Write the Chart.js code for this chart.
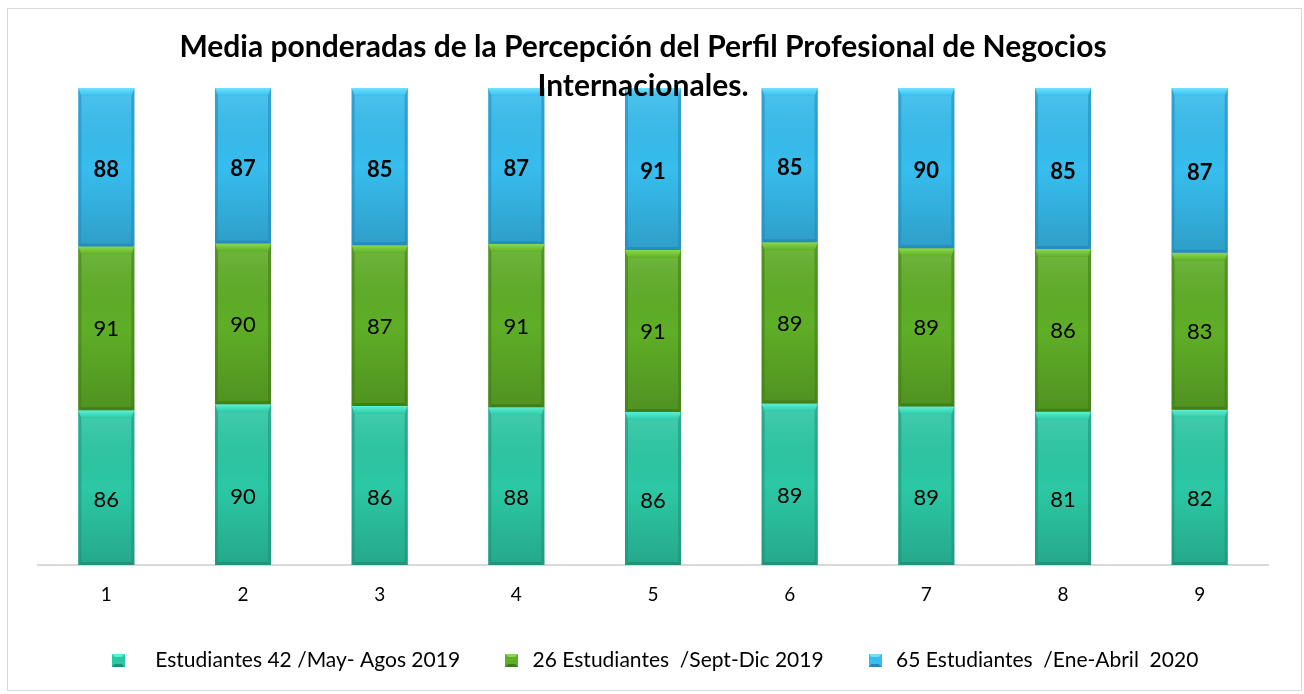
<!DOCTYPE html>
<html>
<head>
<meta charset="utf-8">
<script src="https://cdn.jsdelivr.net/npm/chart.js@4.4.1/dist/chart.umd.min.js"></script>
<style>
  html, body { margin: 0; padding: 0; background: #fff; }
  #grafico { display: block; }
</style>
</head>
<body>
<canvas id="grafico" width="1304" height="694"></canvas>
<script>
'use strict';

// categorias (items evaluados) y medias ponderadas de cada grupo
var categorias = ['1', '2', '3', '4', '5', '6', '7', '8', '9'];
var mayAgos2019 = [86, 90, 86, 88, 86, 89, 89, 81, 82];
var septDic2019 = [91, 90, 87, 91, 91, 89, 89, 86, 83];
var eneAbril2020 = [88, 87, 85, 87, 91, 85, 90, 85, 87];
var leyendas = [
   '   Estudiantes 42 /May- Agos 2019',
   '26 Estudiantes  /Sept-Dic 2019',
   '65 Estudiantes  /Ene-Abril  2020'
];
var titulo = [
   'Media ponderadas de la Percepción del Perfil Profesional de Negocios',
   'Internacionales.'
];

var FUENTE = 'Lato, "Liberation Sans", sans-serif';

//tonos de cada serie: base, bisel claro, borde oscuro
var tonos = [
   { base: '#2cc8a5', claro: '#5cf0d4', oscuro: '#1f8f76' },
   { base: '#5fae27', claro: '#8bd94a', oscuro: '#3f7a16' },
   { base: '#37bdee', claro: '#70e2ff', oscuro: '#2388b8' }
];

//barras al 100%: cada valor como parte del total de la columna
function aPorcentaje(serie) {
   return serie.map(function (v, i) {
      var total = mayAgos2019[i] + septDic2019[i] + eneAbril2020[i];
      return v / total * 100;
   });
}

function cuadroLeyenda(t) {
   var c = document.createElement('canvas');
   c.width = 13; c.height = 13;
   var g = c.getContext('2d');
   g.fillStyle = t.base; g.fillRect(0, 0, 13, 13);
   g.fillStyle = t.claro;
   g.beginPath(); g.moveTo(0, 0); g.lineTo(13, 0); g.lineTo(10, 3); g.lineTo(3, 3); g.closePath(); g.fill();
   g.fillStyle = t.oscuro;
   g.beginPath(); g.moveTo(0, 13); g.lineTo(13, 13); g.lineTo(10, 10); g.lineTo(3, 10); g.closePath(); g.fill();
   return c;
}

var series = [mayAgos2019, septDic2019, eneAbril2020];

//marco, biseles, etiquetas y titulo
var decorado = {
   id: 'decorado',
   beforeDraw: function (chart) {
      var ctx = chart.ctx;
      ctx.save();
      ctx.fillStyle = '#fff';
      ctx.fillRect(0, 0, chart.width, chart.height);
      ctx.strokeStyle = '#d9d9d9';
      ctx.lineWidth = 1;
      ctx.strokeRect(7.5, 8.5, 1294, 682);
      ctx.restore();
   },
   afterDatasetsDraw: function (chart) {
      var ctx = chart.ctx;
      ctx.save();
      chart.data.datasets.forEach(function (ds, i) {
         var t = tonos[i];
         chart.getDatasetMeta(i).data.forEach(function (bar) {
            var p = bar.getProps(['x', 'y', 'base', 'width'], true);
            var l = p.x - p.width / 2, r = p.x + p.width / 2;
            var top = Math.min(p.y, p.base), bot = Math.max(p.y, p.base);
            var bv = 8, sd = 3;
            //sombreado vertical
            var g = ctx.createLinearGradient(0, top, 0, bot);
            g.addColorStop(0, 'rgba(255,255,255,0.12)');
            g.addColorStop(0.5, 'rgba(0,0,0,0)');
            g.addColorStop(1, 'rgba(0,0,0,0.16)');
            ctx.fillStyle = g;
            ctx.fillRect(l, top, p.width, bot - top);
            //bisel superior
            var gb = ctx.createLinearGradient(0, top, 0, top + bv);
            gb.addColorStop(0, t.claro);
            gb.addColorStop(1, t.base);
            ctx.fillStyle = gb;
            ctx.beginPath();
            ctx.moveTo(l, top); ctx.lineTo(r, top);
            ctx.lineTo(r - sd, top + bv); ctx.lineTo(l + sd, top + bv);
            ctx.closePath(); ctx.fill();
            //lados y base oscuros
            ctx.fillStyle = t.oscuro;
            ctx.globalAlpha = 0.55;
            ctx.beginPath();
            ctx.moveTo(l, top); ctx.lineTo(l + sd, top + bv);
            ctx.lineTo(l + sd, bot - sd); ctx.lineTo(l, bot); ctx.closePath(); ctx.fill();
            ctx.beginPath();
            ctx.moveTo(r, top); ctx.lineTo(r - sd, top + bv);
            ctx.lineTo(r - sd, bot - sd); ctx.lineTo(r, bot); ctx.closePath(); ctx.fill();
            ctx.globalAlpha = 0.8;
            ctx.beginPath();
            ctx.moveTo(l, bot); ctx.lineTo(r, bot);
            ctx.lineTo(r - sd, bot - sd); ctx.lineTo(l + sd, bot - sd); ctx.closePath(); ctx.fill();
            ctx.globalAlpha = 1;
         });
      });
      //valores
      ctx.fillStyle = '#000';
      ctx.textAlign = 'center';
      ctx.textBaseline = 'middle';
      chart.data.datasets.forEach(function (ds, i) {
         ctx.font = (i === 2 ? 'bold ' : '') + '22px ' + FUENTE;
         var desp = i === 0 ? 12 : (i === 2 ? 3 : 1);
         chart.getDatasetMeta(i).data.forEach(function (bar, j) {
            var p = bar.getProps(['x', 'y', 'base'], true);
            ctx.fillText(String(series[i][j]), p.x, (p.y + p.base) / 2 + desp);
         });
      });
      //titulo por encima de las barras
      ctx.font = 'bold 30px ' + FUENTE;
      ctx.fillText(titulo[0], 643, 47);
      ctx.fillText(titulo[1], 643, 86);
      ctx.restore();
   }
};

var config = {
   type: 'bar',
   data: {
      labels: categorias,
      datasets: [mayAgos2019, septDic2019, eneAbril2020].map(function (serie, i) {
         return {
            label: leyendas[i],
            data: aPorcentaje(serie),
            backgroundColor: tonos[i].base,
            borderWidth: 0,
            categoryPercentage: 1,
            barPercentage: 0.41
         };
      })
   },
   options: {
      responsive: false,
      animation: false,
      layout: { padding: { top: 88, left: 38, right: 36, bottom: 13 } },
      scales: {
         x: {
            stacked: true,
            grid: { display: false, drawTicks: false },
            border: { color: '#d9d9d9', width: 2 },
            ticks: { color: '#000', font: { family: FUENTE, size: 19 }, padding: 18 },
            afterFit: function (scale) { scale.height = 44; }
         },
         y: {
            stacked: true,
            min: 0,
            max: 100,
            display: false
         }
      },
      plugins: {
         title: { display: false },
         tooltip: { enabled: false },
         legend: {
            position: 'bottom',
            labels: {
               color: '#000',
               font: { family: FUENTE, size: 21 },
               usePointStyle: true,
               padding: 41,
               generateLabels: function (chart) {
                  return chart.data.datasets.map(function (ds, i) {
                     return {
                        text: ds.label,
                        pointStyle: cuadroLeyenda(tonos[i]),
                        fillStyle: tonos[i].base,
                        strokeStyle: tonos[i].base,
                        lineWidth: 0,
                        datasetIndex: i
                     };
                  });
               }
            }
         }
      }
   },
   plugins: [decorado]
};

window.grafico = new Chart(document.getElementById('grafico'), config);
</script>
</body>
</html>
